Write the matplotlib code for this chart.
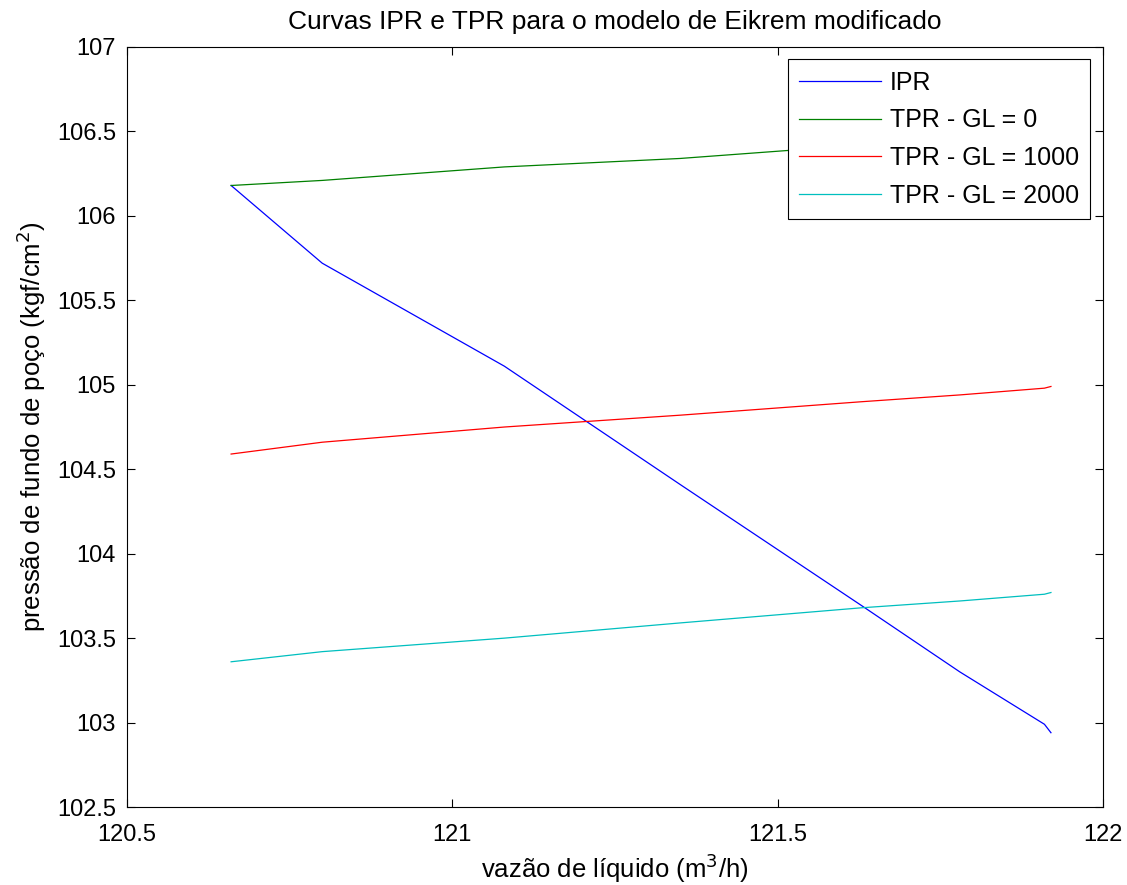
import matplotlib
matplotlib.use("Agg")
import matplotlib.pyplot as plt

plt.rcParams['font.family'] = ['Liberation Sans', 'DejaVu Sans']

# vazão de líquido (m3/h)
vazao = [120.66, 120.80, 121.08, 121.35, 121.63, 121.78, 121.91, 121.92]

# pressão de fundo de poço (kgf/cm2)
ipr = [106.18, 105.72, 105.11, 104.41, 103.69, 103.30, 102.99, 102.94]
tpr_gl0 = [106.18, 106.21, 106.29, 106.34, 106.42, 106.45, 106.48, 106.48]
tpr_gl1000 = [104.59, 104.66, 104.75, 104.82, 104.90, 104.94, 104.98, 104.99]
tpr_gl2000 = [103.36, 103.42, 103.50, 103.59, 103.68, 103.72, 103.76, 103.77]

labels = ['IPR', 'TPR - GL = 0', 'TPR - GL = 1000', 'TPR - GL = 2000']
colors = [(0, 0, 1), (0, 0.5, 0), (1, 0, 0), (0, 0.75, 0.75)]

xticks = [120.5, 121, 121.5, 122]
yticks = [102.5, 103, 103.5, 104, 104.5, 105, 105.5, 106, 106.5, 107]

fig = plt.figure(figsize=(11.27, 8.85), dpi=100)
ax = fig.add_axes([0.1127, 0.0881, 0.8660, 0.8588])

for serie, lab, cor in zip([ipr, tpr_gl0, tpr_gl1000, tpr_gl2000], labels, colors):
    ax.plot(vazao, serie, color=cor, linewidth=0.9, label=lab)

ax.set_xlim(120.5, 122)
ax.set_ylim(102.5, 107)
ax.set_xticks(xticks)
ax.set_xticklabels(['120.5', '121', '121.5', '122'])
ax.set_yticks(yticks)
ax.set_yticklabels([f'{v:g}' for v in yticks])
ax.tick_params(direction='in', length=6, width=0.8, labelsize=17,
               top=True, right=True)
ax.tick_params(axis='x', pad=12)
ax.tick_params(axis='y', pad=8)
for s in ax.spines.values():
    s.set_linewidth(0.8)

ax.set_xlabel('vazão de líquido (m$^3$/h)', fontsize=18.5, labelpad=4)
ax.set_ylabel('pressão de fundo de poço (kgf/cm$^2$)', fontsize=18.5, labelpad=6)
ax.set_title('Curvas IPR e TPR para o modelo de Eikrem modificado', fontsize=19, pad=13)

leg = ax.legend(loc='upper right', fontsize=18, fancybox=False, framealpha=1,
                edgecolor='black', borderaxespad=0.5, handlelength=3.3,
                handletextpad=0.35, labelspacing=0.55, borderpad=0.45)
leg.get_frame().set_linewidth(0.8)

fig.savefig('out.png', dpi=100)
